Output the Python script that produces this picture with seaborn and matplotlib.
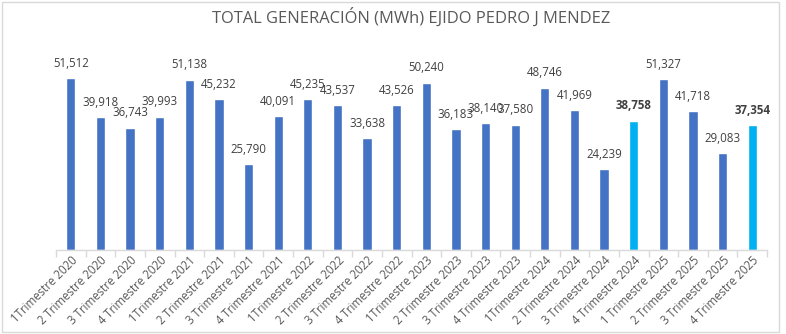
import matplotlib
matplotlib.use("Agg")
import matplotlib.pyplot as plt
import seaborn as sns
import pandas as pd

categories = [
    "1Trimestre 2020", "2 Trimestre 2020", "3 Trimestre 2020", "4 Trimestre 2020",
    "1Trimestre 2021", "2 Trimestre 2021", "3 Trimestre 2021", "4 Trimestre 2021",
    "1Trimestre 2022", "2 Trimestre 2022", "3 Trimestre 2022", "4 Trimestre 2022",
    "1Trimestre 2023", "2 Trimestre 2023", "3 Trimestre 2023", "4 Trimestre 2023",
    "1Trimestre 2024", "2 Trimestre 2024", "3 Trimestre 2024", "4 Trimestre 2024",
    "1 Trimestre 2025", "2 Trimestre 2025", "3 Trimestre 2025", "4 Trimestre 2025",
]
values = [51512, 39918, 36743, 39993, 51138, 45232, 25790, 40091,
          45235, 43537, 33638, 43526, 50240, 36183, 38140, 37580,
          48746, 41969, 24239, 38758, 51327, 41718, 29083, 37354]
highlight = ["4 Trimestre 2024", "4 Trimestre 2025"]

BLUE = "#4472C4"
CYAN = "#00B0F0"
colors = {c: (CYAN if c in highlight else BLUE) for c in categories}

df = pd.DataFrame({"cat": categories, "val": values})

sns.set_theme(style="white")
plt.rcParams["font.family"] = ["Open Sans", "DejaVu Sans"]

fig = plt.figure(figsize=(7.86, 3.34), dpi=100)
ax = fig.add_axes([56 / 786, 1 - 250 / 334, (767 - 56) / 786, 200 / 334])

sns.barplot(data=df, x="cat", y="val", hue="cat", palette=colors,
            legend=False, width=0.31, ax=ax, saturation=1)

ax.set_ylim(0, 60000)
ax.set_xlim(-0.5, len(categories) - 0.5)
ax.set_yticks([])
ax.set_xlabel("")
ax.set_ylabel("")
for s in ["top", "right", "left"]:
    ax.spines[s].set_visible(False)
ax.spines["bottom"].set_color("#d9d9d9")
ax.spines["bottom"].set_linewidth(1)

ax.set_xticks([i - 0.5 for i in range(len(categories) + 1)], minor=True)
ax.tick_params(axis="x", which="minor", length=5, color="#d9d9d9", width=1, bottom=True)
ax.tick_params(axis="x", which="major", length=0, pad=3)
ax.set_xticks(range(len(categories)))
ax.set_xticklabels(categories, rotation=45, ha="right", rotation_mode="anchor",
                   fontsize=8.3, color="#595959")

for i, (c, v) in enumerate(zip(categories, values)):
    bold = c in highlight
    ax.annotate(f"{v:,}", xy=(i, v), xytext=(0, 6), textcoords="offset points",
                ha="center", va="bottom", fontsize=8.3, color="#404040",
                fontweight="bold" if bold else "normal")

fig.text(411 / 786, 1 - 17 / 334, "TOTAL GENERACIÓN (MWh) EJIDO PEDRO J MENDEZ",
         ha="center", va="center", fontsize=11.9, color="#595959")

fig.patches.append(plt.Rectangle((2 / 786, 2 / 334), 777 / 786, 330 / 334,
                                 transform=fig.transFigure,
                                 fill=False, edgecolor="#d9d9d9", linewidth=1))

fig.savefig("out.png", dpi=100)
